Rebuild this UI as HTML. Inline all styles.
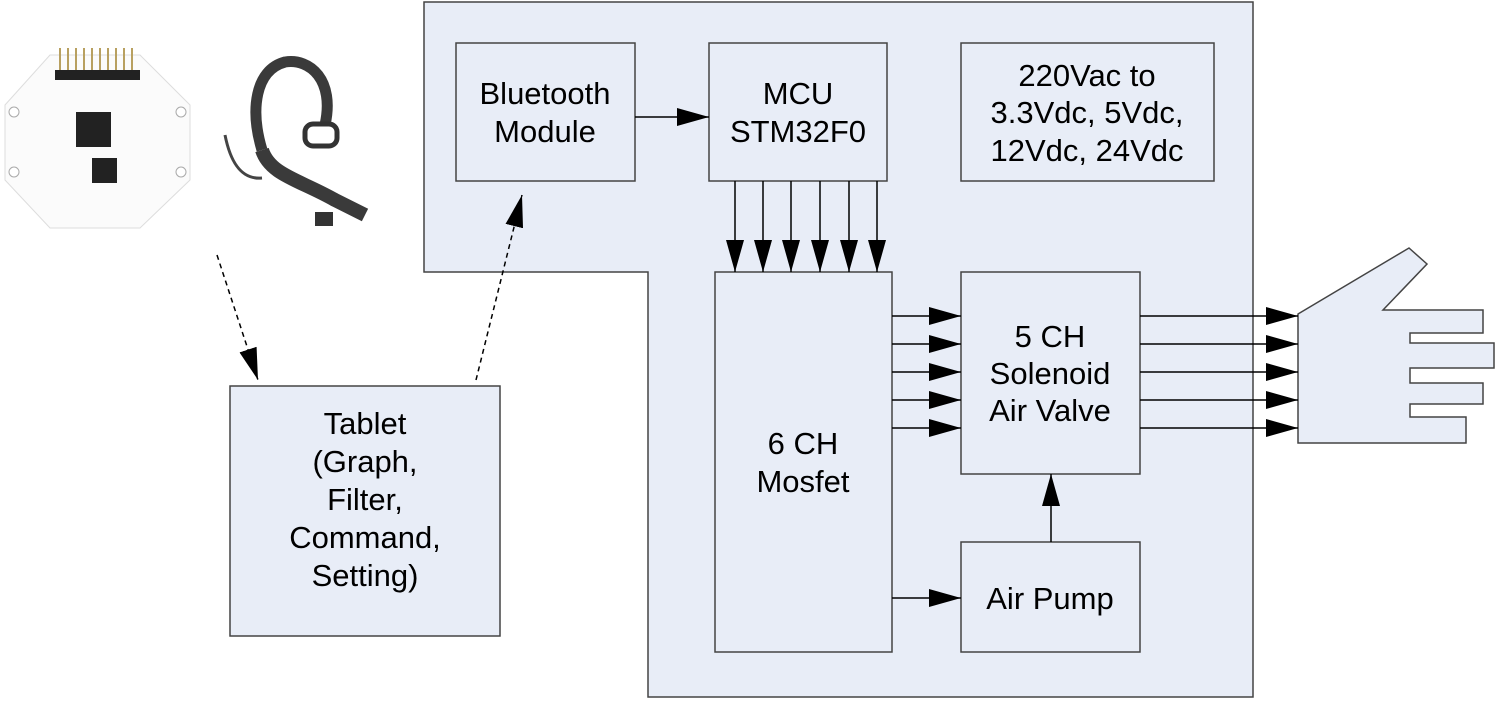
<!DOCTYPE html>
<html><head><meta charset="utf-8"><style>html,body{margin:0;padding:0;background:#fff}</style></head>
<body>
<svg width="1499" height="703" viewBox="0 0 1499 703" xmlns="http://www.w3.org/2000/svg" font-family="Liberation Sans, Arial, sans-serif" font-size="31" fill="#000">
<defs>
<marker id="b" markerWidth="32" markerHeight="22" refX="32" refY="11" orient="auto" markerUnits="userSpaceOnUse"><path d="M0,2 L32,11 L0,20 z" fill="#000"/></marker>
</defs>
<polygon points="424,2 1253,2 1253,697 648,697 648,272 424,272" fill="#e8edf7" stroke="#444" stroke-width="1.5"/>
<g fill="#e8edf7" stroke="#444" stroke-width="1.5">
<rect x="456" y="43" width="179" height="138"/>
<rect x="709" y="43" width="178" height="138"/>
<rect x="961" y="43" width="253" height="138"/>
<rect x="715" y="272" width="177" height="380"/>
<rect x="961" y="272" width="179" height="202"/>
<rect x="961" y="542" width="179" height="110"/>
<rect x="230" y="386" width="270" height="250"/>
<polygon points="1298,314 1409,248 1427,264 1383,310 1483,310 1483,333 1410,333 1410,343 1494,343 1494,368 1410,368 1410,383 1483,383 1483,404 1410,404 1410,417 1466,417 1466,443 1298,443"/>
</g>
<g text-anchor="middle">
<text x="545" y="104">Bluetooth</text><text x="545" y="142">Module</text>
<text x="798" y="104">MCU</text><text x="798" y="142">STM32F0</text>
<text x="1087" y="86">220Vac to</text><text x="1087" y="123">3.3Vdc, 5Vdc,</text><text x="1087" y="161">12Vdc, 24Vdc</text>
<text x="803" y="454">6 CH</text><text x="803" y="492">Mosfet</text>
<text x="1050" y="347">5 CH</text><text x="1050" y="384">Solenoid</text><text x="1050" y="421">Air Valve</text>
<text x="1050" y="609">Air Pump</text>
<text x="365" y="434">Tablet</text><text x="365" y="472">(Graph,</text><text x="365" y="510">Filter,</text><text x="365" y="548">Command,</text><text x="365" y="586">Setting)</text>
</g>
<g stroke="#000" stroke-width="1.5" fill="none" marker-end="url(#b)">
<line x1="635" y1="117" x2="709" y2="117"/>
<line x1="735" y1="181" x2="735" y2="272"/>
<line x1="763" y1="181" x2="763" y2="272"/>
<line x1="791" y1="181" x2="791" y2="272"/>
<line x1="820" y1="181" x2="820" y2="272"/>
<line x1="849" y1="181" x2="849" y2="272"/>
<line x1="877" y1="181" x2="877" y2="272"/>
<line x1="892" y1="316" x2="961" y2="316"/>
<line x1="892" y1="344" x2="961" y2="344"/>
<line x1="892" y1="372" x2="961" y2="372"/>
<line x1="892" y1="400" x2="961" y2="400"/>
<line x1="892" y1="428" x2="961" y2="428"/>
<line x1="1140" y1="316" x2="1298" y2="316"/>
<line x1="1140" y1="344" x2="1298" y2="344"/>
<line x1="1140" y1="372" x2="1298" y2="372"/>
<line x1="1140" y1="400" x2="1298" y2="400"/>
<line x1="1140" y1="428" x2="1298" y2="428"/>
<line x1="1051" y1="542" x2="1051" y2="474"/>
<line x1="892" y1="598" x2="961" y2="598"/>
<line x1="217" y1="255" x2="258" y2="380" stroke-dasharray="5,4"/>
<line x1="476" y1="380" x2="522" y2="195" stroke-dasharray="5,4"/>
</g>
<!-- PCB -->
<polygon points="50,55 140,55 190,105 190,180 140,228 50,228 5,180 5,105" fill="#fbfbfb" stroke="#ddd"/>
<g stroke="#b8a060" stroke-width="2"><line x1="60" y1="48" x2="60" y2="75"/><line x1="68" y1="48" x2="68" y2="75"/><line x1="76" y1="48" x2="76" y2="75"/><line x1="84" y1="48" x2="84" y2="75"/><line x1="92" y1="48" x2="92" y2="75"/><line x1="100" y1="48" x2="100" y2="75"/><line x1="108" y1="48" x2="108" y2="75"/><line x1="116" y1="48" x2="116" y2="75"/><line x1="124" y1="48" x2="124" y2="75"/><line x1="132" y1="48" x2="132" y2="75"/></g>
<rect x="55" y="70" width="85" height="10" fill="#222"/>
<rect x="76" y="112" width="35" height="35" fill="#222"/>
<rect x="92" y="158" width="25" height="25" fill="#222"/>
<circle cx="14" cy="112" r="5" fill="#fff" stroke="#aaa"/><circle cx="181" cy="112" r="5" fill="#fff" stroke="#aaa"/>
<circle cx="14" cy="172" r="5" fill="#fff" stroke="#aaa"/><circle cx="181" cy="172" r="5" fill="#fff" stroke="#aaa"/>
<!-- headset -->
<path d="M262,150 C250,110 255,70 285,62 C310,58 335,80 325,125" fill="none" stroke="#3a3a3a" stroke-width="11"/>
<path d="M262,150 C270,175 300,180 335,200 L365,215" fill="none" stroke="#3a3a3a" stroke-width="14"/>
<rect x="305" y="124" width="32" height="22" rx="8" fill="none" stroke="#333" stroke-width="5"/>
<path d="M225,135 C230,160 240,180 262,178" fill="none" stroke="#444" stroke-width="3"/>
<rect x="315" y="212" width="18" height="14" fill="#333"/>
</svg>
</body></html>
